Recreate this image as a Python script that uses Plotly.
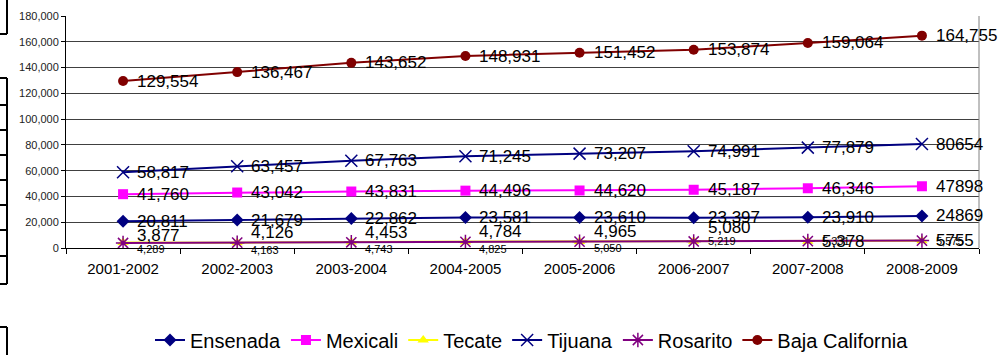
import plotly.graph_objects as go

categories = ["2001-2002", "2002-2003", "2003-2004", "2004-2005",
              "2005-2006", "2006-2007", "2007-2008", "2008-2009"]

ensenada = [20811, 21679, 22862, 23581, 23610, 23397, 23910, 24869]
mexicali = [41760, 43042, 43831, 44496, 44620, 45187, 46346, 47898]
tecate = [4289, 4163, 4743, 4825, 5050, 5219, 5331, 5575]
tijuana = [58817, 63457, 67763, 71245, 73207, 74991, 77879, 80654]
rosarito = [3877, 4126, 4453, 4784, 4965, 5080, 5378, 5755]
baja_california = [129554, 136467, 143652, 148931, 151452, 153874, 159064, 164755]

W, H = 1001, 355
L, R, T, B = 66, 22, 16, 107
PW, PH = W - L - R, H - T - B

FONT = "Liberation Sans, Arial, sans-serif"

series = [
    dict(name="Ensenada", y=ensenada, color="#000080", symbol="diamond", size=10,
         plain_last=True, fsize=17, yshift=[0] * 8, lc="#000080"),
    dict(name="Mexicali", y=mexicali, color="#FF00FF", symbol="square", size=10,
         plain_last=True, fsize=17, yshift=[0] * 8, lc="#FF00FF"),
    dict(name="Tecate", y=tecate, color="#FFFF00", symbol="triangle-up", size=10,
         plain_last=False, fsize=11, yshift=[-7, -7, -7, -7, -7, 0, 0, 0], lc="#FFFF00"),
    dict(name="Tijuana", y=tijuana, color="#000080", symbol="x-thin-open", size=12,
         plain_last=True, fsize=17, yshift=[0] * 8, lc="#000080"),
    dict(name="Rosarito", y=rosarito, color="#800080", symbol="asterisk-open", size=12,
         plain_last=True, fsize=17, yshift=[8, 10, 10, 10, 10, 14, 0, 0], lc="#800080"),
    dict(name="Baja California", y=baja_california, color="#800000", symbol="circle", size=10,
         plain_last=False, fsize=17, yshift=[0] * 8, lc="#800000"),
]

fig = go.Figure()
annotations = []
for s in series:
    mk = dict(symbol=s["symbol"], size=s["size"], color=s["color"])
    if "open" in s["symbol"]:
        mk["line"] = dict(color=s["color"], width=1.5)
    fig.add_trace(go.Scatter(
        x=categories, y=s["y"], name=s["name"], mode="lines+markers",
        line=dict(color=s["lc"], width=2), marker=mk,
    ))
    for i, (c, v) in enumerate(zip(categories, s["y"])):
        if s["plain_last"] and i == len(categories) - 1:
            txt = str(v)
        else:
            txt = f"{v:,}"
        annotations.append(dict(
            x=c, y=v, text=txt, showarrow=False, xanchor="left", yanchor="middle",
            xshift=12, yshift=s["yshift"][i],
            font=dict(family=FONT, size=s["fsize"], color="black"),
        ))

def px(x):
    return (x - L) / PW

def py(y):
    return (H - B - y) / PH

shapes = []
# right plot border
shapes.append(dict(type="line", xref="paper", yref="paper", x0=1, x1=1, y0=0, y1=1,
                   line=dict(color="#808080", width=1)))
# cropped table artifacts at left edge
blk = dict(color="black", width=2)
shapes.append(dict(type="line", xref="paper", yref="paper", x0=px(7), x1=px(7), y0=py(-2), y1=py(34), line=blk))
shapes.append(dict(type="line", xref="paper", yref="paper", x0=px(-2), x1=px(7), y0=py(34), y1=py(34), line=blk))
shapes.append(dict(type="line", xref="paper", yref="paper", x0=px(7), x1=px(7), y0=py(78), y1=py(284), line=blk))
for yy in [78, 105, 130, 155, 180, 205, 230, 256, 284]:
    shapes.append(dict(type="line", xref="paper", yref="paper", x0=px(-2), x1=px(7), y0=py(yy), y1=py(yy), line=blk))
shapes.append(dict(type="line", xref="paper", yref="paper", x0=px(7), x1=px(7), y0=py(327), y1=py(357), line=blk))
shapes.append(dict(type="line", xref="paper", yref="paper", x0=px(-2), x1=px(7), y0=py(327), y1=py(327), line=blk))

fig.update_layout(
    width=W, height=H,
    margin=dict(l=L, r=R, t=T, b=B, autoexpand=False),
    paper_bgcolor="white", plot_bgcolor="white",
    font=dict(family=FONT, color="black"),
    showlegend=True,
    legend=dict(orientation="h", xref="container", yref="container",
                x=532 / W, xanchor="center", y=1 - 340 / H, yanchor="middle",
                font=dict(family=FONT, size=20, color="black"),
                tracegroupgap=0, bgcolor="rgba(0,0,0,0)"),
    annotations=annotations,
    shapes=shapes,
    xaxis=dict(
        type="category", tickson="boundaries", ticks="outside", ticklen=5,
        tickcolor="black", showline=True, linecolor="black", linewidth=1,
        showgrid=False, tickfont=dict(family=FONT, size=15, color="black"),
        range=[-0.5, 7.5], fixedrange=True, automargin=False, ticklabelstandoff=7,
    ),
    yaxis=dict(
        range=[0, 180000], dtick=20000, tickformat=",", ticks="outside", ticklen=4,
        tickcolor="black", showline=True, linecolor="black", linewidth=1,
        showgrid=True, gridcolor="#404040", gridwidth=1, zeroline=False,
        tickfont=dict(family=FONT, size=11, color="#222222"), automargin=False,
        fixedrange=True,
    ),
)

fig.write_html(
    "out.html",
    config={"displayModeBar": False},
    post_script="document.body.style.margin='0';document.body.style.overflow='hidden';",
)
